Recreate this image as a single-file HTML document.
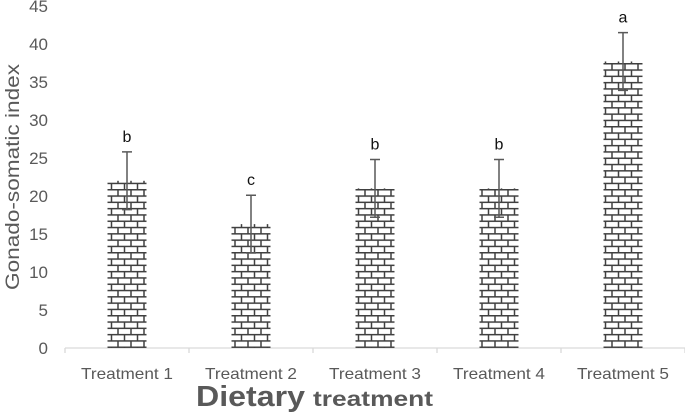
<!DOCTYPE html>
<html><head><meta charset="utf-8">
<style>
html,body{margin:0;padding:0;background:#fff;}
svg{display:block;font-family:"Liberation Sans",sans-serif;}
</style></head>
<body>
<svg id="chart" width="685" height="414" viewBox="0 0 685 414">
<defs>
<pattern id="brick" patternUnits="userSpaceOnUse" width="13" height="12.6" x="0" y="0">
<rect width="13" height="12.6" fill="#fff"/>
<g stroke="#404040" stroke-width="1.5">
<line x1="0" y1="0.75" x2="13" y2="0.75"/>
<line x1="0" y1="7.05" x2="13" y2="7.05"/>
<line x1="1" y1="0" x2="1" y2="6.3"/>
<line x1="7.5" y1="6.3" x2="7.5" y2="12.6"/>
</g>
</pattern>
</defs>
<g id="grid"></g>
<g id="bars"></g>
<text transform="translate(19,177) rotate(-90)" text-anchor="middle" font-size="19" fill="#595959" textLength="226" lengthAdjust="spacingAndGlyphs">Gonado-somatic index</text>
<text y="406" fill="#595959" font-weight="bold">
<tspan x="196" font-size="29" textLength="109" lengthAdjust="spacingAndGlyphs">Dietary</tspan>
<tspan x="313" font-size="21" textLength="120" lengthAdjust="spacingAndGlyphs">treatment</tspan>
</text>
</svg>
<script>
const categories = ["Treatment 1","Treatment 2","Treatment 3","Treatment 4","Treatment 5"];
const values = [22, 16.3, 21, 21, 37.7];
const errors = [3.8, 3.8, 3.8, 3.8, 3.8];
const letters = ["b","c","b","b","a"];
const yTicks = [0,5,10,15,20,25,30,35,40,45];

const NS = "http://www.w3.org/2000/svg";
const x0 = 65, catW = 124, barW = 39;
const y = v => 348 - v * (342 / 45);
const xc = i => x0 + catW * (i + 0.5);
function mk(tag, attrs, parent, text) {
  const e = document.createElementNS(NS, tag);
  for (const k in attrs) e.setAttribute(k, attrs[k]);
  if (text !== undefined) e.textContent = text;
  parent.appendChild(e);
  return e;
}
const grid = document.getElementById("grid");
const bars = document.getElementById("bars");
yTicks.forEach(t => {
  const e = mk("text", {x: 48, y: y(t) + 6, "text-anchor": "end", "font-size": 17, fill: "#595959"}, grid, String(t));
  
  
});
const ax = mk("line", {x1: x0, y1: 348, x2: x0 + catW * categories.length, y2: 348, stroke: "#d9d9d9", "stroke-width": 1.3}, grid);


for (let i = 0; i <= categories.length; i++) {
  const tk = mk("line", {x1: x0 + catW * i, y1: 348, x2: x0 + catW * i, y2: 353, stroke: "#d9d9d9", "stroke-width": 1.3}, grid);
  
  
}
categories.forEach((c, i) => {
  const lb = mk("text", {x: xc(i), y: 379, "text-anchor": "middle", "font-size": 16, fill: "#595959", textLength: 92, lengthAdjust: "spacingAndGlyphs"}, grid, c);
  
  
  const b = mk("rect", {x: xc(i) - barW / 2, y: y(values[i]), width: barW, height: 348 - y(values[i]), fill: "url(#brick)"}, bars);
  
  
  const hi = y(values[i] + errors[i]), lo = y(values[i] - errors[i]);
  const eb = mk("path", {d: `M${xc(i)},${lo}V${hi}M${xc(i)-5},${hi}H${xc(i)+5}M${xc(i)-5},${lo}H${xc(i)+5}`, stroke: "#595959", "stroke-width": 1.5, fill: "none"}, bars);
  
  
  const lt = mk("text", {x: xc(i), y: hi - 10, "text-anchor": "middle", "font-size": 16, fill: "#111"}, bars, letters[i]);
  
  
});
</script>
</body></html>
